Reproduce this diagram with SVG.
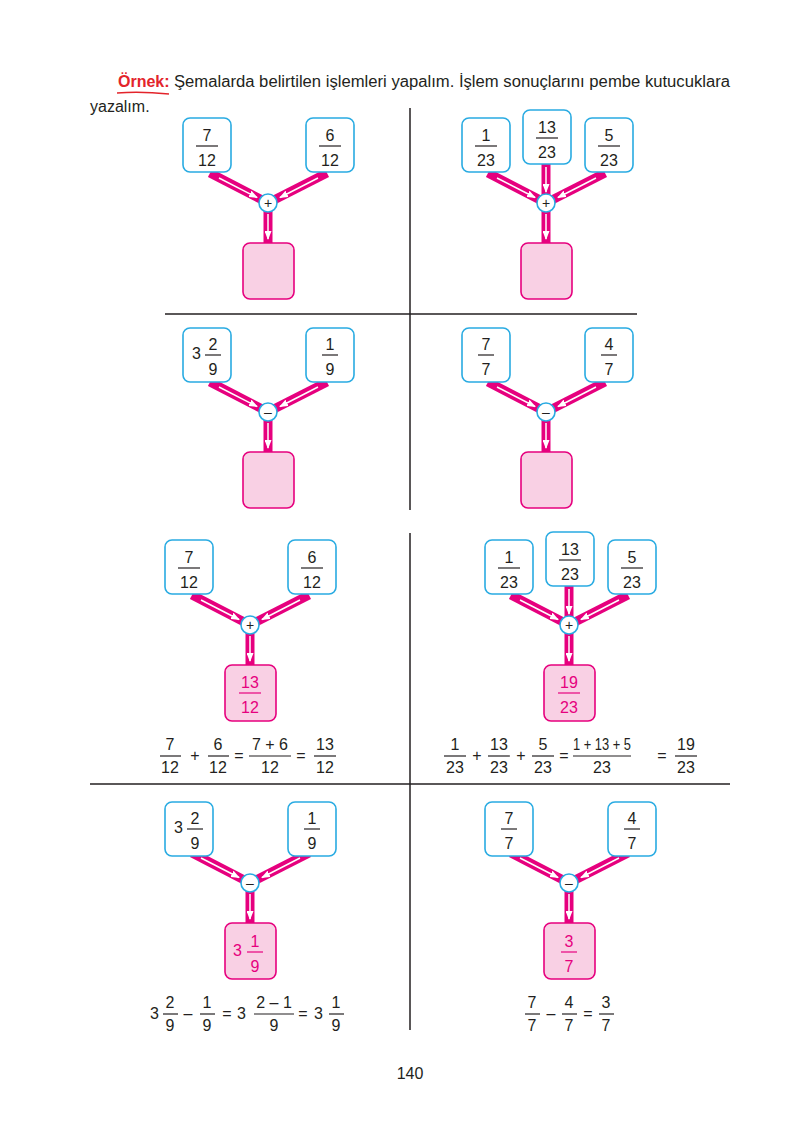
<svg xmlns="http://www.w3.org/2000/svg" width="800" height="1140" viewBox="0 0 800 1140">
<style>
text{font-family:"Liberation Sans",Arial,sans-serif;font-size:16px;fill:#231f20}
.c{text-anchor:middle}
.m{fill:#e6007e}
.bx{fill:#fff;stroke:#29abe2;stroke-width:1.6}
.rs{fill:#f9d0e4;stroke:#e6007e;stroke-width:1.6}
.op{fill:#fff;stroke:#29abe2;stroke-width:1.6}
.bar{stroke:#231f20;stroke-width:1.2}
.mbar{stroke:#e6007e;stroke-width:1.2}
.pk{stroke:#e6007e;stroke-width:9}
.wh{stroke:#fff;stroke-width:1.5;marker-end:url(#ah)}
.sep{stroke:#231f20;stroke-width:1.5}
</style>
<defs>
<marker id="ah" markerUnits="userSpaceOnUse" markerWidth="9" markerHeight="7" refX="8" refY="3.5" orient="auto"><path d="M0,0 L9,3.5 L0,7 z" fill="#fff"/></marker>
<g id="conn2">
<line class="pk" x1="210" y1="173" x2="268" y2="203"/>
<line class="wh" x1="219" y1="178" x2="257" y2="197.5"/>
<line class="pk" x1="327" y1="173" x2="268" y2="203"/>
<line class="wh" x1="318" y1="178" x2="280" y2="197.5"/>
<line class="pk" x1="268" y1="203" x2="268" y2="244"/>
<line class="wh" x1="268" y1="214" x2="268" y2="239"/>
</g>
<g id="mid"><line class="pk" x1="546" y1="164" x2="546" y2="203"/><line class="wh" x1="546" y1="167" x2="546" y2="192"/></g>
</defs>

<text x="118" y="87" style="fill:#e3242b;font-weight:bold">Örnek:</text>
<path d="M117,93 Q140,91 169,94" fill="none" stroke="#e3242b" stroke-width="1.5"/>
<text x="174" y="87" textLength="556" lengthAdjust="spacingAndGlyphs">Şemalarda belirtilen işlemleri yapalım. İşlem sonuçlarını pembe kutucuklara</text>
<text x="90" y="112">yazalım.</text>

<g id="lines">
<line class="sep" x1="410" y1="108" x2="410" y2="510"/>
<line class="sep" x1="165" y1="314" x2="637" y2="314"/>
<line class="sep" x1="90" y1="784" x2="730" y2="784"/>
<line class="sep" x1="410" y1="533" x2="410" y2="1030"/>
</g>

<g id="connectors">
<use href="#conn2"/>
<use href="#conn2" transform="translate(278,0)"/><use href="#mid"/>
<use href="#conn2" transform="translate(0,209)"/>
<use href="#conn2" transform="translate(278,209)"/>
<use href="#conn2" transform="translate(-18,422)"/>
<use href="#conn2" transform="translate(301,422)"/><use href="#mid" transform="translate(23,422)"/>
<use href="#conn2" transform="translate(-18,680)"/>
<use href="#conn2" transform="translate(301,680)"/>
</g>

<g id="a1"><rect class="bx" x="183" y="118" width="48" height="54" rx="7"/><text class="c" x="207" y="141">7</text><line class="bar" x1="196" y1="146" x2="218" y2="146"/><text class="c" x="207" y="166">12</text></g>
<g id="a2"><rect class="bx" x="306" y="118" width="48" height="54" rx="7"/><text class="c" x="330" y="141">6</text><line class="bar" x1="319" y1="146" x2="341" y2="146"/><text class="c" x="330" y="166">12</text></g>
<g id="aop"><circle class="op" cx="268" cy="203" r="9"/><text class="c" x="268" y="208" style="font-size:14px">+</text></g>
<g id="ar"><rect class="rs" x="243" y="243" width="51" height="56" rx="7"/></g>

<g id="b1"><rect class="bx" x="462" y="118" width="48" height="54" rx="7"/><text class="c" x="486" y="141">1</text><line class="bar" x1="475" y1="146" x2="497" y2="146"/><text class="c" x="486" y="166">23</text></g>
<g id="b2"><rect class="bx" x="523" y="110" width="48" height="54" rx="7"/><text class="c" x="547" y="133">13</text><line class="bar" x1="536" y1="138" x2="558" y2="138"/><text class="c" x="547" y="158">23</text></g>
<g id="b3"><rect class="bx" x="585" y="118" width="48" height="54" rx="7"/><text class="c" x="609" y="141">5</text><line class="bar" x1="598" y1="146" x2="620" y2="146"/><text class="c" x="609" y="166">23</text></g>
<g id="bop"><circle class="op" cx="546" cy="203" r="9"/><text class="c" x="546" y="208" style="font-size:14px">+</text></g>
<g id="br"><rect class="rs" x="521" y="243" width="51" height="56" rx="7"/></g>

<g id="c1"><rect class="bx" x="183" y="328" width="48" height="54" rx="7"/><text x="192" y="359">3</text><text class="c" x="213" y="350">2</text><line class="bar" x1="205" y1="355" x2="221" y2="355"/><text class="c" x="213" y="375">9</text></g>
<g id="c2"><rect class="bx" x="306" y="328" width="48" height="54" rx="7"/><text class="c" x="330" y="350">1</text><line class="bar" x1="322" y1="355" x2="338" y2="355"/><text class="c" x="330" y="375">9</text></g>
<g id="cop"><circle class="op" cx="268" cy="412" r="9"/><text class="c" x="268" y="417" style="font-size:14px">–</text></g>
<g id="cr"><rect class="rs" x="243" y="452" width="51" height="56" rx="7"/></g>

<g id="d1"><rect class="bx" x="462" y="328" width="48" height="54" rx="7"/><text class="c" x="486" y="350">7</text><line class="bar" x1="478" y1="355" x2="494" y2="355"/><text class="c" x="486" y="375">7</text></g>
<g id="d2"><rect class="bx" x="585" y="328" width="48" height="54" rx="7"/><text class="c" x="609" y="350">4</text><line class="bar" x1="601" y1="355" x2="617" y2="355"/><text class="c" x="609" y="375">7</text></g>
<g id="dop"><circle class="op" cx="546" cy="412" r="9"/><text class="c" x="546" y="417" style="font-size:14px">–</text></g>
<g id="dr"><rect class="rs" x="521" y="452" width="51" height="56" rx="7"/></g>

<g id="e1"><rect class="bx" x="165" y="540" width="48" height="54" rx="7"/><text class="c" x="189" y="563">7</text><line class="bar" x1="178" y1="568" x2="200" y2="568"/><text class="c" x="189" y="588">12</text></g>
<g id="e2"><rect class="bx" x="288" y="540" width="48" height="54" rx="7"/><text class="c" x="312" y="563">6</text><line class="bar" x1="301" y1="568" x2="323" y2="568"/><text class="c" x="312" y="588">12</text></g>
<g id="eop"><circle class="op" cx="250" cy="625" r="9"/><text class="c" x="250" y="630" style="font-size:14px">+</text></g>
<g id="er"><rect class="rs" x="225" y="665" width="51" height="56" rx="7"/><text class="c m" x="250" y="688">13</text><line class="mbar" x1="239" y1="693" x2="261" y2="693"/><text class="c m" x="250" y="713">12</text></g>
<g id="eeq">
<text class="c" x="170" y="750">7</text><line class="bar" x1="160" y1="756" x2="181" y2="756"/><text class="c" x="170" y="773">12</text>
<text class="c" x="195" y="761">+</text>
<text class="c" x="218" y="750">6</text><line class="bar" x1="208" y1="756" x2="229" y2="756"/><text class="c" x="218" y="773">12</text>
<text class="c" x="239" y="761">=</text>
<text class="c" x="270" y="750">7 + 6</text><line class="bar" x1="249" y1="756" x2="291" y2="756"/><text class="c" x="270" y="773">12</text>
<text class="c" x="301" y="761">=</text>
<text class="c" x="325" y="750">13</text><line class="bar" x1="314" y1="756" x2="336" y2="756"/><text class="c" x="325" y="773">12</text>
</g>

<g id="f1"><rect class="bx" x="485" y="540" width="48" height="54" rx="7"/><text class="c" x="509" y="563">1</text><line class="bar" x1="498" y1="568" x2="520" y2="568"/><text class="c" x="509" y="588">23</text></g>
<g id="f2"><rect class="bx" x="546" y="532" width="48" height="54" rx="7"/><text class="c" x="570" y="555">13</text><line class="bar" x1="559" y1="560" x2="581" y2="560"/><text class="c" x="570" y="580">23</text></g>
<g id="f3"><rect class="bx" x="608" y="540" width="48" height="54" rx="7"/><text class="c" x="632" y="563">5</text><line class="bar" x1="621" y1="568" x2="643" y2="568"/><text class="c" x="632" y="588">23</text></g>
<g id="fop"><circle class="op" cx="569" cy="625" r="9"/><text class="c" x="569" y="630" style="font-size:14px">+</text></g>
<g id="fr"><rect class="rs" x="544" y="665" width="51" height="56" rx="7"/><text class="c m" x="569" y="688">19</text><line class="mbar" x1="558" y1="693" x2="580" y2="693"/><text class="c m" x="569" y="713">23</text></g>
<g id="feq">
<text class="c" x="455" y="750">1</text><line class="bar" x1="444" y1="756" x2="466" y2="756"/><text class="c" x="455" y="773">23</text>
<text class="c" x="477" y="761">+</text>
<text class="c" x="499" y="750">13</text><line class="bar" x1="488" y1="756" x2="510" y2="756"/><text class="c" x="499" y="773">23</text>
<text class="c" x="521" y="761">+</text>
<text class="c" x="543" y="750">5</text><line class="bar" x1="532" y1="756" x2="554" y2="756"/><text class="c" x="543" y="773">23</text>
<text class="c" x="564" y="761">=</text>
<text class="c" x="602" y="750" textLength="58" lengthAdjust="spacingAndGlyphs">1 + 13 + 5</text><line class="bar" x1="573" y1="756" x2="631" y2="756"/><text class="c" x="602" y="773">23</text>
<text class="c" x="662" y="761">=</text>
<text class="c" x="686" y="750">19</text><line class="bar" x1="675" y1="756" x2="697" y2="756"/><text class="c" x="686" y="773">23</text>
</g>

<g id="g1"><rect class="bx" x="165" y="802" width="48" height="54" rx="7"/><text x="174" y="833">3</text><text class="c" x="195" y="824">2</text><line class="bar" x1="187" y1="829" x2="203" y2="829"/><text class="c" x="195" y="849">9</text></g>
<g id="g2"><rect class="bx" x="288" y="802" width="48" height="54" rx="7"/><text class="c" x="312" y="824">1</text><line class="bar" x1="304" y1="829" x2="320" y2="829"/><text class="c" x="312" y="849">9</text></g>
<g id="gop"><circle class="op" cx="250" cy="883" r="9"/><text class="c" x="250" y="888" style="font-size:14px">–</text></g>
<g id="gr"><rect class="rs" x="225" y="923" width="51" height="56" rx="7"/><text class="m" x="233" y="956">3</text><text class="c m" x="255" y="947">1</text><line class="mbar" x1="247" y1="952" x2="263" y2="952"/><text class="c m" x="255" y="972">9</text></g>
<g id="geq">
<text x="150" y="1019">3</text>
<text class="c" x="170" y="1008">2</text><line class="bar" x1="163" y1="1014" x2="178" y2="1014"/><text class="c" x="170" y="1031">9</text>
<text class="c" x="188" y="1019">–</text>
<text class="c" x="207" y="1008">1</text><line class="bar" x1="200" y1="1014" x2="215" y2="1014"/><text class="c" x="207" y="1031">9</text>
<text class="c" x="227" y="1019">=</text>
<text x="237" y="1019">3</text>
<text class="c" x="274" y="1008">2 – 1</text><line class="bar" x1="254" y1="1014" x2="294" y2="1014"/><text class="c" x="274" y="1031">9</text>
<text class="c" x="303" y="1019">=</text>
<text x="314" y="1019">3</text>
<text class="c" x="336" y="1008">1</text><line class="bar" x1="329" y1="1014" x2="344" y2="1014"/><text class="c" x="336" y="1031">9</text>
</g>

<g id="h1"><rect class="bx" x="485" y="802" width="48" height="54" rx="7"/><text class="c" x="509" y="824">7</text><line class="bar" x1="501" y1="829" x2="517" y2="829"/><text class="c" x="509" y="849">7</text></g>
<g id="h2"><rect class="bx" x="608" y="802" width="48" height="54" rx="7"/><text class="c" x="632" y="824">4</text><line class="bar" x1="624" y1="829" x2="640" y2="829"/><text class="c" x="632" y="849">7</text></g>
<g id="hop"><circle class="op" cx="569" cy="883" r="9"/><text class="c" x="569" y="888" style="font-size:14px">–</text></g>
<g id="hr"><rect class="rs" x="544" y="923" width="51" height="56" rx="7"/><text class="c m" x="569" y="947">3</text><line class="mbar" x1="561" y1="952" x2="577" y2="952"/><text class="c m" x="569" y="972">7</text></g>
<g id="heq">
<text class="c" x="532" y="1008">7</text><line class="bar" x1="525" y1="1014" x2="540" y2="1014"/><text class="c" x="532" y="1031">7</text>
<text class="c" x="551" y="1019">–</text>
<text class="c" x="569" y="1008">4</text><line class="bar" x1="562" y1="1014" x2="577" y2="1014"/><text class="c" x="569" y="1031">7</text>
<text class="c" x="588" y="1019">=</text>
<text class="c" x="606" y="1008">3</text><line class="bar" x1="599" y1="1014" x2="614" y2="1014"/><text class="c" x="606" y="1031">7</text>
</g>

<text class="c" x="410" y="1079">140</text>
</svg>
